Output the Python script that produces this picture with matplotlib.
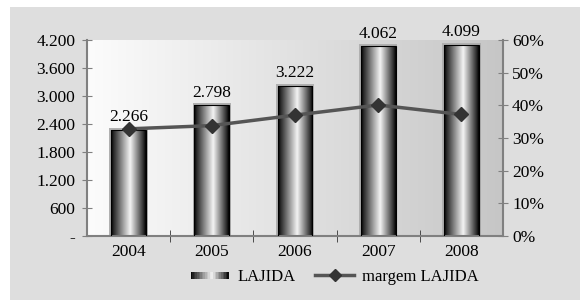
import numpy as np
import matplotlib
matplotlib.use('Agg')
import matplotlib.pyplot as plt
from matplotlib.patches import Rectangle
from matplotlib.lines import Line2D
from matplotlib.colors import LinearSegmentedColormap
from matplotlib.legend_handler import HandlerBase
from matplotlib.ticker import FuncFormatter

anos = ['2004', '2005', '2006', '2007', '2008']
lajida = [2266, 2798, 3222, 4062, 4099]
margem = [0.328, 0.338, 0.370, 0.401, 0.372]

plt.rcParams['font.family'] = ['Liberation Serif', 'DejaVu Serif']
fs = 12.5

cmap_bar = LinearSegmentedColormap.from_list('cil', [
    (0.0, '#000000'), (0.08, '#2a2a2a'), (0.3, '#8a8a8a'),
    (0.55, '#f4f4f4'), (0.75, '#8c8c8c'), (0.93, '#2c2c2c'), (1.0, '#000000')])
grad = np.linspace(0, 1, 256).reshape(1, -1)

fig = plt.figure(figsize=(5.8, 3.0), dpi=100, facecolor='white')
fig.patches.append(Rectangle((10 / 580, 0), 1, 293 / 300, transform=fig.transFigure,
                             facecolor='#dedede', edgecolor='none', zorder=-10))

ax = fig.add_axes([87 / 580, 64 / 300, 416 / 580, 196 / 300])
ax.patch.set_visible(False)
bg = LinearSegmentedColormap.from_list('bg', ['#fcfcfc', '#c6c6c6'])
ax.imshow(grad, cmap=bg, extent=[0, 1, 0, 1], transform=ax.transAxes,
          aspect='auto', zorder=0)

x = np.arange(len(anos))
w = 0.42
for xi, v in zip(x, lajida):
    ax.add_patch(Rectangle((xi - w / 2 - 0.02, 0), w + 0.04, v + 45,
                           facecolor='#b0b0b0', edgecolor='none', zorder=1))
    r = Rectangle((xi - w / 2, 0), w, v, facecolor='none', edgecolor='black',
                  linewidth=0.8, zorder=3)
    ax.add_patch(r)
    im = ax.imshow(grad, cmap=cmap_bar, extent=[xi - w / 2, xi + w / 2, 0, v],
                   aspect='auto', zorder=2)
    im.set_clip_path(r)
    ax.annotate(f'{v:,}'.replace(',', '.'), (xi, v + 45), xytext=(0, 2),
                textcoords='offset points', ha='center', va='bottom', fontsize=fs)

ax.set_xlim(-0.5, 4.5)
ax.set_ylim(0, 4200)
ax.set_yticks(np.arange(0, 4201, 600))
ax.yaxis.set_major_formatter(FuncFormatter(
    lambda v, p: '-' if v == 0 else f'{int(v):,}'.replace(',', '.')))
ax.set_xticks(x)
ax.set_xticklabels(anos)
ax.set_xticks(np.arange(0.5, 4.5, 1), minor=True)
ax.tick_params(axis='x', which='major', length=0, pad=6, labelsize=fs)
ax.tick_params(axis='x', which='minor', length=8, direction='inout', color='#333333')
ax.tick_params(axis='y', length=7, direction='inout', color='#808080', labelsize=fs, pad=5)
for s in ['top', 'right']:
    ax.spines[s].set_visible(False)
for s in ['left', 'bottom']:
    ax.spines[s].set_color('#808080')
    ax.spines[s].set_linewidth(1.5)

ax2 = ax.twinx()
ax2.plot(x, margem, color='#555555', linewidth=2.5, marker='D', markersize=7,
         markerfacecolor='#333333', markeredgecolor='#333333', zorder=5)
ax2.set_ylim(0, 0.6)
ax2.set_yticks(np.arange(0, 0.61, 0.1))
ax2.yaxis.set_major_formatter(FuncFormatter(lambda v, p: f'{v * 100:.0f}%'))
ax2.tick_params(axis='y', length=7, direction='inout', color='#808080', labelsize=fs, pad=3)
for s in ['top', 'left', 'bottom']:
    ax2.spines[s].set_visible(False)
ax2.spines['right'].set_color('#808080')
ax2.spines['right'].set_linewidth(1.5)


class GradHandler(HandlerBase):
    def create_artists(self, legend, orig, xd, yd, width, height, fontsize, trans):
        arts = []
        n = 24
        for i in range(n):
            arts.append(Rectangle((xd + width * i / n, yd + height * 0.2), width / n + 0.3,
                                  height * 0.55, facecolor=cmap_bar((i + 0.5) / n),
                                  edgecolor='none', transform=trans))
        return arts


h_bar = Rectangle((0, 0), 1, 1)
h_line = Line2D([], [], color='#555555', linewidth=2.5, marker='D', markersize=6,
                markerfacecolor='#333333', markeredgecolor='#333333')
fig.legend([h_bar, h_line], ['LAJIDA', 'margem LAJIDA'], loc='center',
           bbox_to_anchor=(0.577, 0.077), ncol=2, frameon=False, fontsize=12,
           handler_map={Rectangle: GradHandler()}, handlelength=2.3,
           columnspacing=1.2, handletextpad=0.5)

fig.savefig('out.png', dpi=100, facecolor='white')
